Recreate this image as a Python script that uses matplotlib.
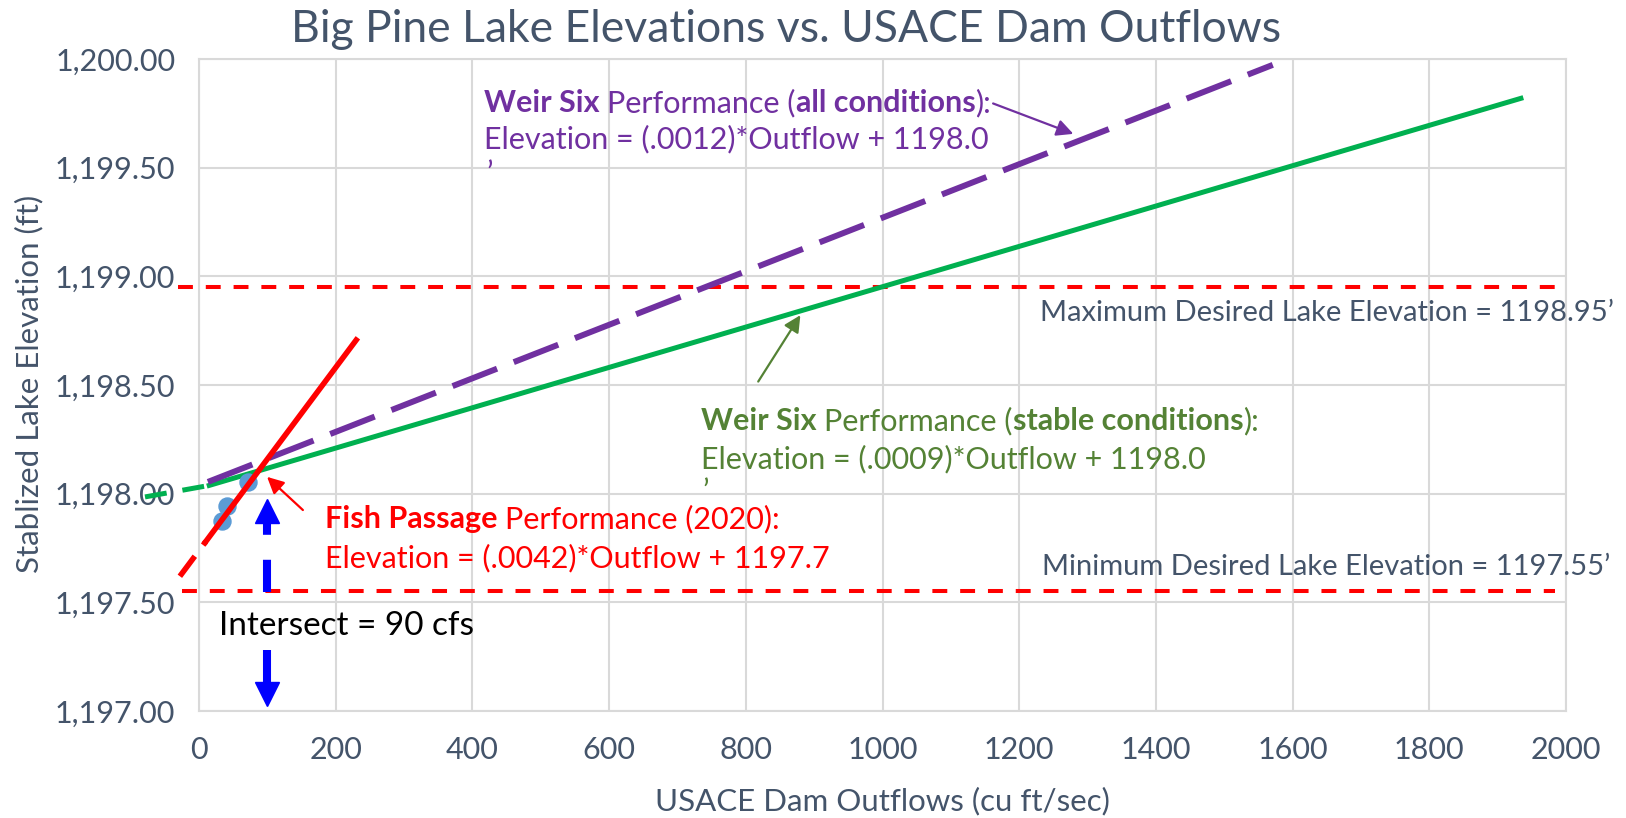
import matplotlib
matplotlib.use('Agg')
import matplotlib.pyplot as plt
from matplotlib.ticker import FuncFormatter, MultipleLocator

# tamanho final em pixels
W, H = 1626, 818

# pontos medidos (vazao x elevacao)
vazao_pts = [33, 41, 72]
elev_pts = [1197.875, 1197.945, 1198.055]

# linha de tendencia da passagem de peixes (vermelha)
peixe_tracejada_x = [-28, 10]
peixe_tracejada_y = [1197.62, 1197.78]
peixe_x = [10, 230]
peixe_y = [1197.78, 1198.707]

# Weir Six - todas as condicoes (roxa)
todas_x = [13, 1571]
todas_y = [1198.054, 1199.973]

# Weir Six - condicoes estaveis (verde)
estavel_tracejada_x = [-79, 15]
estavel_tracejada_y = [1197.985, 1198.038]
estavel_x = [15, 1934]
estavel_y = [1198.038, 1199.819]

# limites desejados do lago
max_x = [-31, 1984]
max_y = [1198.95, 1198.95]
min_x = [-25, 1984]
min_y = [1197.55, 1197.55]

# seta azul da intersecao
intersecao_x = 100
seta_sobe_y = [1197.548, 1197.87]
seta_sobe_ponta = 1197.920
seta_desce_y = [1197.281, 1197.133]
seta_desce_ponta = 1197.076

ROXO = '#7030A0'
VERDE = '#00B050'
VERDE_TEXTO = '#548235'
VERMELHO = '#FF0000'
AZUL_PONTO = '#5B9BD5'
CINZA_TEXTO = '#44546A'
GRADE = '#D9D9D9'

plt.rcParams['font.family'] = ['Lato', 'DejaVu Sans']


def escrever_partes(fig, x_px, y_px, partes, cor, tamanho):
    # escreve texto com trechos em negrito, lado a lado, na mesma linha de base
    r = fig.canvas.get_renderer()
    esp = fig.text(0, 0, 'x x', fontsize=tamanho)
    sem = fig.text(0, 0, 'xx', fontsize=tamanho)
    largura_espaco = esp.get_window_extent(r).width - sem.get_window_extent(r).width
    esp.remove()
    sem.remove()
    x = x_px
    for texto, peso in partes:
        if texto.startswith(' '):
            x += largura_espaco
            texto = texto.lstrip()
        t = fig.text(x / W, 1 - y_px / H, texto, color=cor, fontsize=tamanho,
                     fontweight=peso, va='baseline', ha='left')
        x += t.get_window_extent(r).width


fig = plt.figure(figsize=(W / 100, H / 100), dpi=100)
ax = fig.add_axes([199 / W, 1 - 711 / H, (1566 - 199) / W, (711 - 59) / H])

ax.set_xlim(0, 2000)
ax.set_ylim(1197.0, 1200.0)
ax.xaxis.set_major_locator(MultipleLocator(200))
ax.yaxis.set_major_locator(MultipleLocator(0.5))
ax.yaxis.set_major_formatter(FuncFormatter(lambda v, p: f'{v:,.2f}'))
ax.grid(True, color=GRADE, linewidth=1.5)
ax.set_axisbelow(True)
for lado in ax.spines.values():
    lado.set_color(GRADE)
    lado.set_linewidth(1.5)
ax.tick_params(length=0, labelsize=22, labelcolor=CINZA_TEXTO)
ax.tick_params(axis='y', pad=17)
ax.tick_params(axis='x', pad=18)

# linhas horizontais de limite
ax.plot(max_x, max_y, color=VERMELHO, lw=2.9, dashes=(3.7, 3.2), clip_on=False, zorder=3)
ax.plot(min_x, min_y, color=VERMELHO, lw=2.9, dashes=(3.7, 3.2), clip_on=False, zorder=3)

# tendencias
ax.plot(estavel_tracejada_x, estavel_tracejada_y, color=VERDE, lw=3.6, dashes=(4.4, 3.2),
        clip_on=False, zorder=4)
ax.plot(estavel_x, estavel_y, color=VERDE, lw=3.6, clip_on=False, zorder=4)
ax.plot(todas_x, todas_y, color=ROXO, lw=4.3, dashes=(8, 3), clip_on=False, zorder=5)
ax.scatter(vazao_pts, elev_pts, s=150, color=AZUL_PONTO, zorder=6, clip_on=False)
ax.plot(peixe_tracejada_x, peixe_tracejada_y, color=VERMELHO, lw=4, dashes=(4.5, 2.5),
        clip_on=False, zorder=7)
ax.plot(peixe_x, peixe_y, color=VERMELHO, lw=4, clip_on=False, zorder=7)

# seta azul
ax.plot([intersecao_x, intersecao_x], seta_sobe_y, color='#0000FF', lw=5.8, dashes=(4, 3.1),
        solid_capstyle='butt', zorder=6)
ax.plot([intersecao_x], [seta_sobe_ponta], marker='^', ms=17.5, color='#0000FF', zorder=6)
ax.plot([intersecao_x, intersecao_x], seta_desce_y, color='#0000FF', lw=5.8,
        solid_capstyle='butt', zorder=6)
ax.plot([intersecao_x], [seta_desce_ponta], marker='v', ms=17.5, color='#0000FF', zorder=6,
        clip_on=False)

# setas finas das anotacoes
ax.annotate('', xy=(1283, 1199.651), xytext=(1158, 1199.80),
            arrowprops=dict(arrowstyle='-|>', color=ROXO, lw=1.6, mutation_scale=25), zorder=8)
ax.annotate('', xy=(882, 1198.832), xytext=(816, 1198.505),
            arrowprops=dict(arrowstyle='-|>', color=VERDE_TEXTO, lw=1.6, mutation_scale=25),
            zorder=8)
ax.annotate('', xy=(96.6, 1198.086), xytext=(155, 1197.916),
            arrowprops=dict(arrowstyle='-|>', color=VERMELHO, lw=1.6, mutation_scale=25),
            zorder=8)

# titulo e eixos
fig.text(786 / W, 1 - 29 / H, 'Big Pine Lake Elevations vs. USACE Dam Outflows',
         fontsize=32, color=CINZA_TEXTO, ha='center', va='center')
fig.text(29 / W, 1 - 384 / H, 'Stablized Lake Elevation (ft)', fontsize=22.5,
         color=CINZA_TEXTO, rotation=90, ha='center', va='center')
fig.text(882 / W, 1 - 801 / H, 'USACE Dam Outflows (cu ft/sec)', fontsize=22.5,
         color=CINZA_TEXTO, ha='center', va='center')

# anotacoes de texto
escrever_partes(fig, 484, 112, [('Weir Six', 'bold'), (' Performance (', 'normal'),
                                ('all conditions', 'bold'), ('):', 'normal')], ROXO, 22)
escrever_partes(fig, 484, 148, [('Elevation = (.0012)*Outflow + 1198.0', 'normal')], ROXO, 22)
escrever_partes(fig, 486, 184, [('\u2019', 'normal')], ROXO, 22)

escrever_partes(fig, 701, 430, [('Weir Six', 'bold'), (' Performance (', 'normal'),
                                ('stable conditions', 'bold'), ('):', 'normal')], VERDE_TEXTO, 22)
escrever_partes(fig, 701, 468, [('Elevation = (.0009)*Outflow + 1198.0', 'normal')],
                VERDE_TEXTO, 22)
escrever_partes(fig, 702, 502, [('\u2019', 'normal')], VERDE_TEXTO, 22)

escrever_partes(fig, 325, 528, [('Fish Passage', 'bold'), (' Performance (2020):', 'normal')],
                VERMELHO, 22)
escrever_partes(fig, 325, 567, [('Elevation = (.0042)*Outflow + 1197.7', 'normal')],
                VERMELHO, 22)

escrever_partes(fig, 1040, 321, [('Maximum Desired Lake Elevation = 1198.95\u2019', 'normal')],
                CINZA_TEXTO, 21)
escrever_partes(fig, 1042, 575, [('Minimum Desired Lake Elevation = 1197.55\u2019', 'normal')],
                CINZA_TEXTO, 21)
escrever_partes(fig, 219, 635, [('Intersect = 90 cfs', 'normal')], 'black', 24)

fig.savefig('out.png', dpi=100)
